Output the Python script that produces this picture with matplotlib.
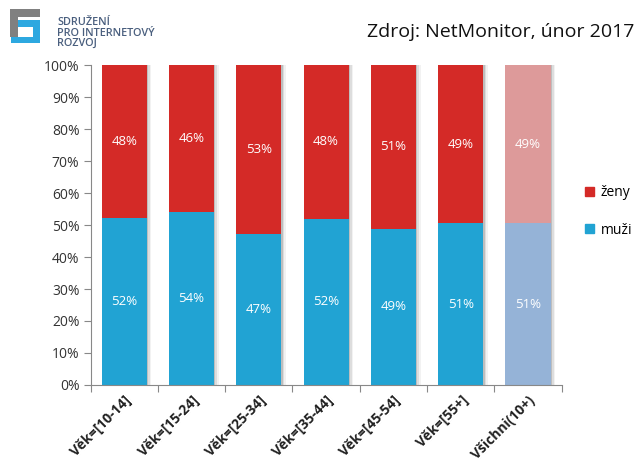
import matplotlib.pyplot as plt
import matplotlib.patches as mpatches
import numpy as np

plt.rcParams['font.family'] = ['Open Sans', 'DejaVu Sans']

categories = ['Věk=[10-14]', 'Věk=[15-24]', 'Věk=[25-34]', 'Věk=[35-44]',
              'Věk=[45-54]', 'Věk=[55+]', 'Všichni(10+)']
muzi = [52.2, 54.1, 47.2, 51.9, 48.8, 50.6, 50.6]
zeny = [47.8, 45.9, 52.8, 48.1, 51.2, 49.4, 49.4]
muzi_labels = ['52%', '54%', '47%', '52%', '49%', '51%', '51%']
zeny_labels = ['48%', '46%', '53%', '48%', '51%', '49%', '49%']

blue = '#21A3D3'
red = '#D42A27'
blue_light = '#95B3D7'
red_light = '#DD9A9A'

W, H = 638, 462
fig = plt.figure(figsize=(W / 100, H / 100), dpi=100)
ax = fig.add_axes([90.5 / W, 1 - 385 / H, (561.7 - 90.5) / W, (385 - 65) / H])

x = np.arange(len(categories))
w = 0.67
bcols = [blue] * 6 + [blue_light]
rcols = [red] * 6 + [red_light]

# soft shadow on the right of each bar
for dx, a in [(0.02, 0.35), (0.045, 0.2), (0.07, 0.1)]:
    ax.bar(x + dx, 100, width=w, color='#888888', alpha=a, zorder=1, linewidth=0)
ax.bar(x, muzi, width=w, color=bcols, zorder=2, linewidth=0)
ax.bar(x, zeny, width=w, bottom=muzi, color=rcols, zorder=2, linewidth=0)

for i in range(len(x)):
    ax.text(x[i], muzi[i] / 2, muzi_labels[i], ha='center', va='center',
            color='white', fontsize=9.5, zorder=3)
    ax.text(x[i], muzi[i] + zeny[i] / 2, zeny_labels[i], ha='center', va='center',
            color='white', fontsize=9.5, zorder=3)

ax.set_xlim(-0.5, len(x) - 0.5)
ax.set_ylim(0, 100)
ax.set_yticks(range(0, 101, 10))
ax.set_yticklabels([f'{v}%' for v in range(0, 101, 10)], fontsize=10, color='#333333')
ax.set_xticks(np.arange(-0.5, len(x), 1.0), minor=False)
ax.set_xticklabels([''] * (len(x) + 1))
ax.tick_params(axis='x', length=5, color='#888888')
ax.tick_params(axis='y', length=5, color='#888888', pad=3)
ax.set_xticks(x, minor=True)
ax.set_xticklabels(categories, minor=True, rotation=45, ha='right',
                   rotation_mode='anchor', fontsize=10, fontweight='bold', color='#222222')
ax.tick_params(axis='x', which='minor', length=0, pad=6)
for s in ['top', 'right']:
    ax.spines[s].set_visible(False)
ax.spines['left'].set_color('#888888')
ax.spines['bottom'].set_color('#888888')

# legend
fig.legend(handles=[mpatches.Patch(color=red, label='ženy'),
                    mpatches.Patch(color=blue, label='muži')],
           loc='center left', bbox_to_anchor=(585 / W, 1 - 211.5 / H), frameon=False,
           fontsize=10, handlelength=0.65, handleheight=0.65, borderpad=0,
           borderaxespad=0, labelspacing=1.6, handletextpad=0.5)

# source title
fig.text(634 / W, 1 - 32 / H, 'Zdroj: NetMonitor, únor 2017', ha='right',
         va='center', fontsize=14, color='#111111')

# logo
def px(xp, yp, wp, hp, c):
    fig.patches.append(mpatches.Rectangle((xp / W, 1 - (yp + hp) / H), wp / W, hp / H,
                                          transform=fig.transFigure, color=c, zorder=5,
                                          linewidth=0))

gray = '#808080'
lb = '#2DA8E0'
px(10, 9, 30, 8, gray)
px(10, 9, 8, 28, gray)
px(18, 20, 22, 7, lb)
px(33, 20, 7, 23, lb)
px(11, 37, 29, 6, lb)
fig.text(57 / W, 1 - 33 / H, 'SDRUŽENÍ\nPRO INTERNETOVÝ\nROZVOJ', ha='left', va='center',
         fontsize=7.8, fontweight='semibold', color='#4A5F7E', linespacing=0.95)

fig.savefig('out.png', dpi=100)
